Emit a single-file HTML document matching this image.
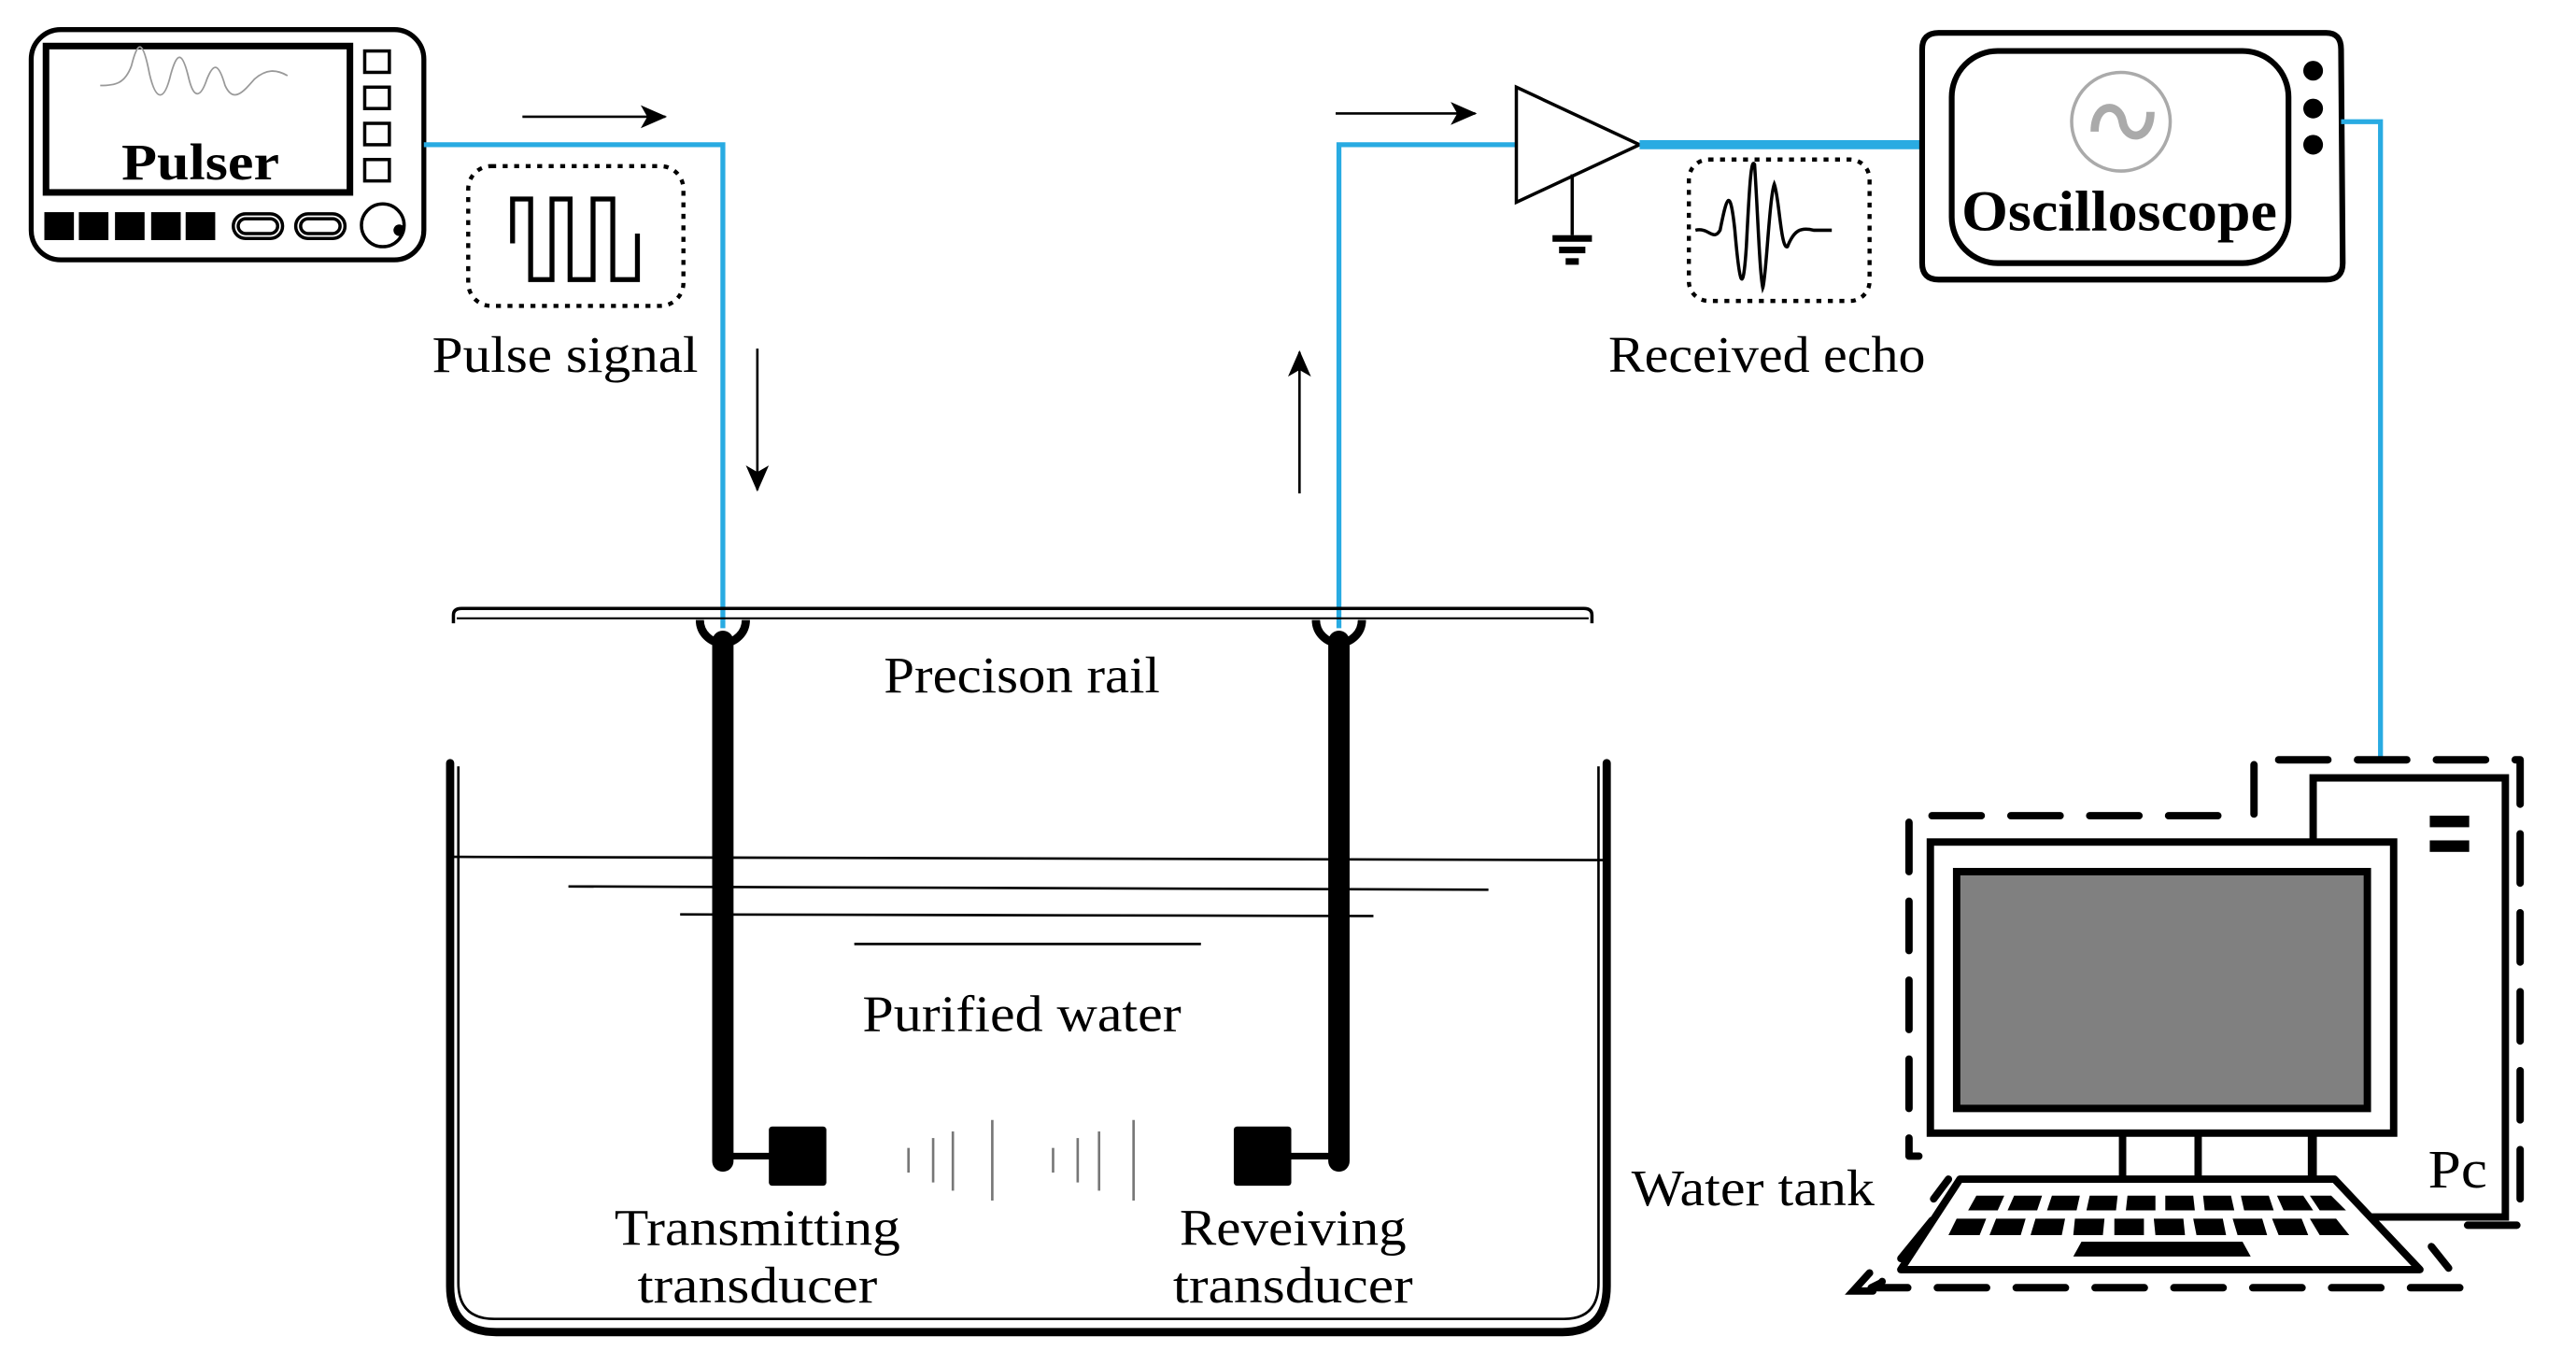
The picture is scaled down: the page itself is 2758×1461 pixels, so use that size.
<!DOCTYPE html>
<html><head><meta charset="utf-8"><style>
html,body{margin:0;padding:0;background:#fff;}
svg{display:block;}
text{font-family:"Liberation Serif",serif;fill:#000;}
</style></head><body>
<svg width="2758" height="1461" viewBox="0 0 1568 830" preserveAspectRatio="none" xmlns="http://www.w3.org/2000/svg">
<defs>
<marker id="ah" markerWidth="16" markerHeight="14" refX="15" refY="7" orient="auto" markerUnits="userSpaceOnUse">
<path d="M0,0 L16,7 L0,14 L4,7 Z" fill="#000"/></marker>
</defs>
<!-- Pulser -->
<rect x="19" y="18" width="239" height="140" rx="18" fill="none" stroke="#000" stroke-width="3"/>
<rect x="28" y="28" width="185" height="89" fill="none" stroke="#000" stroke-width="4"/>
<path d="M61,52 C70,52 76,51 80,40 C84,24 87,24 91,45 C95,62 100,62 104,45 C108,31 111,31 115,48 C118,60 122,60 126,48 C130,38 133,38 137,52 C142,63 148,56 155,48 C162,42 168,42 175,46" fill="none" stroke="#999" stroke-width="1"/>
<text x="122" y="109" font-size="31" font-weight="bold" text-anchor="middle" textLength="96" lengthAdjust="spacingAndGlyphs">Pulser</text>
<g fill="none" stroke="#000" stroke-width="2">
<rect x="222" y="31" width="15" height="13"/><rect x="222" y="53" width="15" height="13"/><rect x="222" y="75" width="15" height="13"/><rect x="222" y="97" width="15" height="13"/>
<rect x="142" y="130" width="30" height="15" rx="7.5"/><rect x="145" y="133" width="24" height="9" rx="4.5"/>
<rect x="180" y="130" width="30" height="15" rx="7.5"/><rect x="183" y="133" width="24" height="9" rx="4.5"/>
<circle cx="233" cy="137" r="13"/>
</g>
<circle cx="243" cy="140" r="3.5" fill="#000"/>
<g fill="#000"><rect x="27" y="129" width="18" height="17"/><rect x="48" y="129" width="18" height="17"/><rect x="70" y="129" width="18" height="17"/><rect x="92" y="129" width="18" height="17"/><rect x="113" y="129" width="18" height="17"/></g>
<!-- Pulse signal -->
<polyline points="258,88 440,88 440,382" fill="none" stroke="#29abe2" stroke-width="3"/>
<line x1="318" y1="71" x2="405" y2="71" stroke="#000" stroke-width="1.5" marker-end="url(#ah)"/>
<line x1="461" y1="212" x2="461" y2="298" stroke="#000" stroke-width="1.5" marker-end="url(#ah)"/>
<rect x="285" y="101" width="131" height="85" rx="14" fill="none" stroke="#000" stroke-width="2.5" stroke-dasharray="3,4"/>
<path d="M312,148 V121 H323 V170 H336 V121 H347 V170 H361 V121 H373 V170 H388 V142" fill="none" stroke="#000" stroke-width="3"/>
<text x="263" y="226" font-size="31" textLength="162" lengthAdjust="spacingAndGlyphs">Pulse signal</text>
<!-- right side signal -->
<polyline points="815,382 815,88 923,88" fill="none" stroke="#29abe2" stroke-width="3"/>
<line x1="791" y1="300" x2="791" y2="214" stroke="#000" stroke-width="1.5" marker-end="url(#ah)"/>
<line x1="813" y1="69" x2="898" y2="69" stroke="#000" stroke-width="1.5" marker-end="url(#ah)"/>
<polygon points="923,53 923,123 998,88" fill="#fff" stroke="#000" stroke-width="2"/>
<line x1="957" y1="106" x2="957" y2="143" stroke="#000" stroke-width="2"/>
<rect x="945" y="143" width="24" height="4" fill="#000"/><rect x="949" y="150" width="16" height="4" fill="#000"/><rect x="953" y="157" width="8" height="4" fill="#000"/>
<line x1="998" y1="88" x2="1170" y2="88" stroke="#29abe2" stroke-width="5.5"/>
<rect x="1028" y="97" width="110" height="86" rx="12" fill="none" stroke="#000" stroke-width="2.5" stroke-dasharray="3,4"/>
<path d="M1032,140 C1040,138 1043,147 1047,140 C1051,120 1053,112 1056,140 C1059,175 1061,180 1063,150 C1065,110 1066,96 1068,100 C1070,130 1071,165 1073,175 C1075,170 1077,120 1080,112 C1083,120 1084,152 1088,150 C1092,140 1096,138 1104,140 C1110,140 1112,140 1115,140" fill="none" stroke="#000" stroke-width="2"/>
<text x="979" y="226" font-size="31" textLength="193" lengthAdjust="spacingAndGlyphs">Received echo</text>
<!-- Oscilloscope -->
<path d="M1180,20 H1416 Q1425,20 1425,30 L1426,160 Q1426,170 1416,170 H1180 Q1170,170 1170,160 L1170,30 Q1170,20 1180,20 Z" fill="none" stroke="#000" stroke-width="3.5"/>
<rect x="1188" y="31" width="205" height="129" rx="28" fill="none" stroke="#000" stroke-width="3.5"/>
<circle cx="1408" cy="43" r="6" fill="#000"/><circle cx="1408" cy="66" r="6" fill="#000"/><circle cx="1408" cy="88" r="6" fill="#000"/>
<circle cx="1291" cy="74" r="30" fill="none" stroke="#aaa" stroke-width="2"/>
<path d="M1275,80 C1275,62 1290,62 1292,74 C1294,86 1309,86 1309,68" fill="none" stroke="#aaa" stroke-width="5"/>
<text x="1290" y="140" font-size="35" font-weight="bold" text-anchor="middle" textLength="192" lengthAdjust="spacingAndGlyphs">Oscilloscope</text>
<polyline points="1425,74 1449,74 1449,461" fill="none" stroke="#29abe2" stroke-width="3"/>
<!-- Rail -->
<path d="M276,379 L276,374 Q276,370 281,370 L964,370 Q969,370 969,374 L969,379" fill="none" stroke="#000" stroke-width="2"/>
<line x1="278" y1="376" x2="967" y2="376" stroke="#000" stroke-width="1.2"/>
<path d="M426,377 A14,14 0 0,0 454,377" fill="none" stroke="#000" stroke-width="5"/>
<path d="M801,377 A14,14 0 0,0 829,377" fill="none" stroke="#000" stroke-width="5"/>
<line x1="440" y1="390" x2="440" y2="706" stroke="#000" stroke-width="13" stroke-linecap="round"/>
<line x1="815" y1="390" x2="815" y2="706" stroke="#000" stroke-width="13" stroke-linecap="round"/>
<line x1="440" y1="703" x2="470" y2="703" stroke="#000" stroke-width="4"/>
<line x1="785" y1="703" x2="815" y2="703" stroke="#000" stroke-width="4"/>
<rect x="468" y="685" width="35" height="36" rx="2" fill="#000"/>
<rect x="751" y="685" width="35" height="36" rx="2" fill="#000"/>
<g stroke="#777" stroke-width="1.5">
<line x1="553" y1="698" x2="553" y2="713"/><line x1="568" y1="692" x2="568" y2="719"/><line x1="580" y1="688" x2="580" y2="724"/><line x1="604" y1="681" x2="604" y2="730"/>
<line x1="641" y1="698" x2="641" y2="713"/><line x1="656" y1="692" x2="656" y2="719"/><line x1="669" y1="688" x2="669" y2="724"/><line x1="690" y1="681" x2="690" y2="730"/>
</g>
<text x="622" y="421" font-size="31" text-anchor="middle" textLength="168" lengthAdjust="spacingAndGlyphs">Precison rail</text>
<!-- Tank -->
<path d="M274,464 V782 Q274,810 302,810 H951 Q978,810 978,782 V464" fill="none" stroke="#000" stroke-width="5" stroke-linecap="round"/>
<path d="M279,466 V780 Q279,802 301,802 H952 Q973,802 973,780 V466" fill="none" stroke="#000" stroke-width="1.5"/>
<g stroke="#000" stroke-width="1.5">
<line x1="276" y1="521" x2="976" y2="523"/><line x1="346" y1="539" x2="906" y2="541"/><line x1="414" y1="556" x2="836" y2="557"/><line x1="520" y1="574" x2="731" y2="574"/>
</g>
<text x="622" y="627" font-size="31" text-anchor="middle" textLength="194" lengthAdjust="spacingAndGlyphs">Purified water</text>
<text x="461" y="757" font-size="31" text-anchor="middle" textLength="174" lengthAdjust="spacingAndGlyphs">Transmitting</text>
<text x="461" y="792" font-size="31" text-anchor="middle" textLength="146" lengthAdjust="spacingAndGlyphs">transducer</text>
<text x="787" y="757" font-size="31" text-anchor="middle" textLength="138" lengthAdjust="spacingAndGlyphs">Reveiving</text>
<text x="787" y="792" font-size="31" text-anchor="middle" textLength="146" lengthAdjust="spacingAndGlyphs">transducer</text>
<text x="993" y="733" font-size="31" textLength="148" lengthAdjust="spacingAndGlyphs">Water tank</text>
<!-- PC -->
<g fill="none" stroke="#000" stroke-width="4.5" stroke-linecap="round" stroke-linejoin="round" stroke-dasharray="30,18">
<polyline points="1372,495 1372,462 1534,462 1534,745 1502,745"/>
<polyline points="1350,496 1162,496 1162,703 1168,703"/>
<polyline points="1186,717 1177,729"/>
<polyline points="1176,742 1145,780 1139,783 1500,783 1480,758"/>
</g>
<path d="M1138,774 L1128,785 L1140,785" fill="none" stroke="#000" stroke-width="4.5" stroke-linecap="round"/>
<rect x="1408" y="473" width="117" height="267" fill="#fff" stroke="#000" stroke-width="4.5"/>
<rect x="1479" y="496" width="24" height="7" fill="#000"/><rect x="1479" y="511" width="24" height="7" fill="#000"/>
<text x="1478" y="722" font-size="33" textLength="36" lengthAdjust="spacingAndGlyphs">Pc</text>
<rect x="1175" y="512" width="282" height="177" fill="#fff" stroke="#000" stroke-width="4.5"/>
<rect x="1191" y="530" width="250" height="144" fill="#808080" stroke="#000" stroke-width="4.5"/>
<g stroke="#000" stroke-width="4.5"><line x1="1292" y1="689" x2="1292" y2="717"/><line x1="1338" y1="689" x2="1338" y2="717"/><line x1="1407" y1="689" x2="1407" y2="717"/></g>
<polygon points="1193,717 1421,717 1473,772 1157,772" fill="#fff" stroke="#000" stroke-width="4.5" stroke-linejoin="round"/>
<g fill="#000">
<polygon points="1203,727 1220,727 1216,736 1198,736"/><polygon points="1226,727 1243,727 1240,736 1222,736"/><polygon points="1249,727 1266,727 1264,736 1246,736"/><polygon points="1272,727 1289,727 1288,736 1270,736"/><polygon points="1295,727 1312,727 1312,736 1294,736"/><polygon points="1318,727 1335,727 1336,736 1318,736"/><polygon points="1341,727 1358,727 1360,736 1342,736"/><polygon points="1364,727 1381,727 1384,736 1366,736"/><polygon points="1386,727 1402,727 1408,736 1390,736"/><polygon points="1406,727 1419,727 1428,736 1412,736"/>
<polygon points="1191,741 1209,741 1205,751 1186,751"/><polygon points="1215,741 1233,741 1230,751 1211,751"/><polygon points="1239,741 1257,741 1255,751 1236,751"/><polygon points="1263,741 1281,741 1280,751 1262,751"/><polygon points="1287,741 1305,741 1305,751 1287,751"/><polygon points="1311,741 1329,741 1330,751 1312,751"/><polygon points="1335,741 1353,741 1355,751 1337,751"/><polygon points="1359,741 1377,741 1380,751 1362,751"/><polygon points="1383,741 1401,741 1405,751 1387,751"/><polygon points="1406,741 1422,741 1430,751 1412,751"/>
<polygon points="1267,755 1365,755 1370,764 1262,764"/>
</g>
</svg>
</body></html>
